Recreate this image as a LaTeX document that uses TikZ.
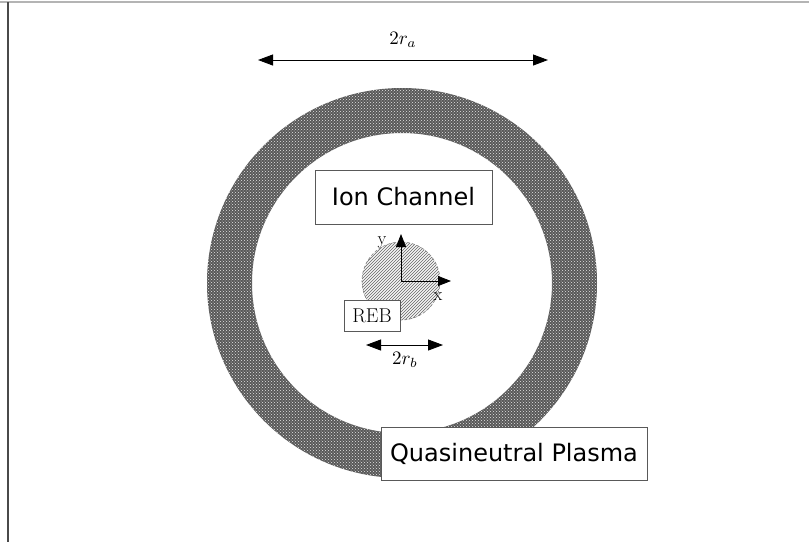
\documentclass[tikz,border=0pt]{standalone}
\usepackage{fontspec}
\newfontfamily\labelfont{DejaVu Sans}
\usepackage{graphicx}
\usepackage{xcolor}
\definecolor{ringGray}{HTML}{585858}
\definecolor{frameGray}{HTML}{B4B4B4}
\definecolor{edgeGray}{HTML}{4A4A4A}
\usepackage{tikz}
\usetikzlibrary{arrows.meta, patterns}

\begin{document}
\begin{tikzpicture}[
		x=1pt, y=-1pt,
		box/.style={
			draw=gray!70!black,
			fill=white,
			line width=0.9pt,
			inner sep=0pt,
			align=center
		},
		label/.style={
			box,
			font=\labelfont\fontsize{24}{27}\selectfont
		},
		dimarrow/.style={{Triangle[length=15pt,width=11pt]}-{Triangle[length=15pt,width=11pt]}, line width=0.9pt},
		axis/.style={-{Triangle[length=13pt,width=10pt]}, line width=0.8pt}
		]
		
		% frame
		\useasboundingbox (0,0) rectangle (809,542);
		\draw[frameGray, line width=2pt] (0,2) -- (809,2);
		\draw[edgeGray, line width=2pt] (7.5,2) -- (7.5,542);
		
		% plasma ring
		\coordinate (c) at (402,283);
		\fill[ringGray, even odd rule] (c) circle[radius=195] (c) circle[radius=150];
		\fill[pattern=crosshatch dots, pattern color=white!80!gray, even odd rule] (c) circle[radius=195] (c) circle[radius=150];
		
		% beam
		\coordinate (o) at (401,281);
		\fill[gray!8] (o) circle[radius=39];
		\fill[pattern=north east lines, pattern color=gray!80!black] (o) circle[radius=39];
		\draw[gray, densely dashed, line width=0.6pt] (o) circle[radius=39];
		
		\coordinate (yt) at (401,234);
		\coordinate (xt) at (451,281);
		\draw[axis] (o) -- (yt);
		\draw[axis] (o) -- (xt);
		\node[font=\fontsize{18}{20}\selectfont] (ylab) at (382,242) {y};
		\node[font=\fontsize{18}{20}\selectfont] (xlab) at (438,297) {x};
		
		% labels
		\node[label, minimum width=177pt, minimum height=54pt] (ion) at (403.5,197) {Ion Channel};
		\node[label, minimum width=266pt, minimum height=53pt] (qnp) at (514,453.5) {Quasineutral Plasma};
		\node[box, minimum width=56pt, minimum height=31pt, font=\fontsize{20}{22}\selectfont] (reb) at (372,315.5) {REB};
		
		% dimensions
		\coordinate (ral) at (258,60);
		\coordinate (rar) at (548,60);
		\draw[dimarrow] (ral) -- (rar);
		\node (ra) at (403,40) {\scalebox{1.9}{$2r_a$}};
		
		\coordinate (rbl) at (366,345);
		\coordinate (rbr) at (443,345);
		\draw[dimarrow] (rbl) -- (rbr);
		\node (rb) at (405,360) {\scalebox{1.9}{$2r_b$}};
		
	\end{tikzpicture}
\end{document}
